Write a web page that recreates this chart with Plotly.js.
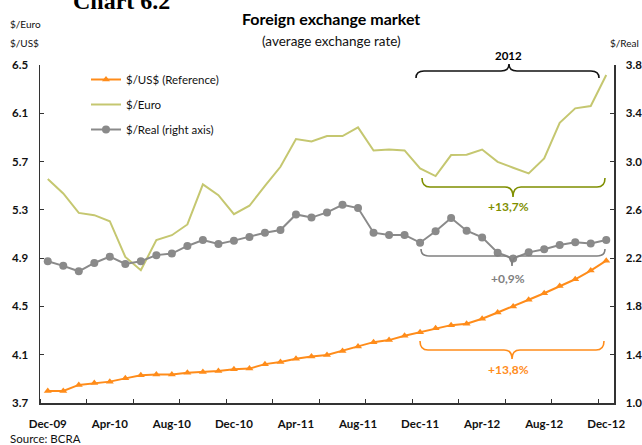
<!DOCTYPE html>
<html>
<head>
<meta charset="utf-8">
<script src="https://cdn.plot.ly/plotly-3.0.1.min.js"></script>
<style>html,body{margin:0;padding:0;background:#fff;}#chart{width:642px;height:445px;}</style>
</head>
<body>
<div id="chart"></div>
<script>
// Monthly data, Dec-09 .. Dec-12
const months = ["Dec-09","Jan-10","Feb-10","Mar-10","Apr-10","May-10","Jun-10","Jul-10","Aug-10","Sep-10","Oct-10","Nov-10",
  "Dec-10","Jan-11","Feb-11","Mar-11","Apr-11","May-11","Jun-11","Jul-11","Aug-11","Sep-11","Oct-11","Nov-11",
  "Dec-11","Jan-12","Feb-12","Mar-12","Apr-12","May-12","Jun-12","Jul-12","Aug-12","Sep-12","Oct-12","Nov-12","Dec-12"];
const usd = [3.80,3.80,3.85,3.865,3.877,3.904,3.929,3.937,3.937,3.951,3.957,3.965,
  3.979,3.985,4.022,4.039,4.067,4.086,4.097,4.130,4.169,4.204,4.221,4.257,
  4.287,4.320,4.345,4.356,4.398,4.450,4.500,4.555,4.609,4.670,4.725,4.797,4.879];
const euro = [5.555,5.436,5.275,5.256,5.206,4.91,4.80,5.049,5.090,5.179,5.511,5.422,
  5.264,5.334,5.499,5.657,5.886,5.866,5.911,5.911,5.983,5.792,5.800,5.792,
  5.643,5.580,5.754,5.757,5.800,5.698,5.649,5.602,5.726,6.021,6.141,6.160,6.417];
const real = [2.174,2.136,2.091,2.160,2.212,2.152,2.175,2.225,2.238,2.301,2.350,2.317,
  2.345,2.375,2.411,2.433,2.562,2.536,2.579,2.642,2.615,2.411,2.392,2.392,
  2.328,2.422,2.532,2.427,2.372,2.245,2.198,2.248,2.273,2.309,2.331,2.322,2.350];
const tickLabelIdx = [0,4,8,12,16,20,24,28,32,36];
const leftTicks = [3.7,4.1,4.5,4.9,5.3,5.7,6.1,6.5];
const rightTicks = [1.0,1.4,1.8,2.2,2.6,3.0,3.4,3.8];

const idx = months.map((m,i)=>i);
const FONT = "Lato, 'Open Sans', sans-serif";

// pixel -> paper helpers (plot area 40..614 x 65..403)
const L=40, R=614, T=65, B=403;
const px = v => (v-L)/(R-L);
const py = v => 1-(v-T)/(B-T);

function bracket(x0,x1,cx,yE,yM,yT,color){
  const r=8;
  const p = (x,y)=>px(x)+","+py(y);
  const d = "M"+p(x0,yE)+" Q"+p(x0,yM)+" "+p(x0+r,yM)+" L"+p(cx-r,yM)+" Q"+p(cx,yM)+" "+p(cx,yT)+
            " Q"+p(cx,yM)+" "+p(cx+r,yM)+" L"+p(x1-r,yM)+" Q"+p(x1,yM)+" "+p(x1,yE);
  return {type:"path", xref:"paper", yref:"paper", path:d, line:{color:color, width:1.6}};
}

const traces = [
  {x:idx, y:usd, name:"$/US$ (Reference)", type:"scatter", mode:"lines+markers",
   line:{color:"#ff8c1a", width:2}, marker:{symbol:"triangle-up", size:7, color:"#ff8c1a"},
   legendgroup:"a", yaxis:"y"},
  {x:idx, y:euro, name:"$/Euro", type:"scatter", mode:"lines",
   line:{color:"#c5c770", width:2}, legendgroup:"b", yaxis:"y"},
  {x:idx, y:real, name:"$/Real (right axis)", type:"scatter", mode:"lines+markers",
   line:{color:"#8a8a8a", width:2}, marker:{symbol:"circle", size:8, color:"#8a8a8a"},
   legendgroup:"c", yaxis:"y2"}
];

const ann = (x,y,text,size,color,bold,anchor,family)=>({xref:"paper",yref:"paper",x:px(x),y:py(y),
  text:bold?"<b>"+text+"</b>":text, showarrow:false, xanchor:anchor||"center", yanchor:"middle",
  font:{family:family||FONT,size:size,color:color}});

const layout = {
  width:642, height:445,
  margin:{l:L, r:642-R, t:T, b:445-B, pad:0},
  paper_bgcolor:"#fff", plot_bgcolor:"#fff",
  showlegend:true,
  legend:{x:px(86), y:py(65), xanchor:"left", yanchor:"top", font:{family:FONT,size:11.5,color:"#111"},
    traceorder:"grouped", tracegroupgap:6, bgcolor:"rgba(0,0,0,0)", itemwidth:30},
  xaxis:{range:[-0.5,36.5], tickmode:"array", tickvals:tickLabelIdx, ticktext:tickLabelIdx.map(i=>months[i]),
    ticks:"", showgrid:false, zeroline:false, showline:true, linecolor:"#333", linewidth:1.5,
    tickfont:{family:FONT,size:11.5,color:"#111", weight:"bold"}, ticklabelstandoff:10,
    minor:{tick0:-0.5, dtick:3, ticks:"inside", ticklen:4, tickcolor:"#333", tickwidth:1, showgrid:false}},
  yaxis:{range:[3.7,6.5], tickmode:"array", tickvals:leftTicks, ticktext:leftTicks.map(v=>v.toFixed(1)),
    ticks:"inside", ticklen:4, tickcolor:"#333", showgrid:false, zeroline:false, showline:true,
    linecolor:"#333", linewidth:1.5, tickfont:{family:FONT,size:11.5,color:"#111",weight:"bold"}, ticklabelstandoff:8},
  yaxis2:{range:[1.0,3.8], overlaying:"y", side:"right", tickmode:"array", tickvals:rightTicks,
    ticktext:rightTicks.map(v=>v.toFixed(1)), ticks:"inside", ticklen:4, tickcolor:"#333", showgrid:false,
    zeroline:false, showline:true, linecolor:"#333", linewidth:1.5,
    tickfont:{family:FONT,size:11.5,color:"#111",weight:"bold"}, ticklabelstandoff:8},
  shapes:[
    bracket(416,599,509,78,71,64,"#111"),
    bracket(422,605,513,178,187,197,"#7f8f00"),
    bracket(421,605,512,249,256,266,"#808080"),
    bracket(420,604,512,341,350,359,"#ff8c1a")
  ],
  annotations:[
    ann(121,1,"Chart 6.2",24,"#000",true,"center","'Liberation Serif', 'DejaVu Serif', serif"),
    ann(331,18,"Foreign exchange market",16,"#000",true),
    ann(331,41,"(average exchange rate)",13.5,"#111",false),
    ann(8,24,"$/Euro",10,"#111",false,"left"),
    ann(8,43,"$/US$",10,"#111",false,"left"),
    ann(608,43,"$/Real",10,"#111",false,"left"),
    ann(509,56,"2012",11.5,"#000",true),
    ann(509,207,"+13,7%",12,"#7f8f00",true),
    ann(508,278,"+0,9%",12,"#808080",true),
    ann(508,369,"+13,8%",12,"#ff8c1a",true),
    ann(8,438.5,"Source: BCRA",11.5,"#111",false,"left")
  ]
};

Plotly.newPlot("chart", traces, layout, {staticPlot:true, displayModeBar:false});
</script>
</body>
</html>
